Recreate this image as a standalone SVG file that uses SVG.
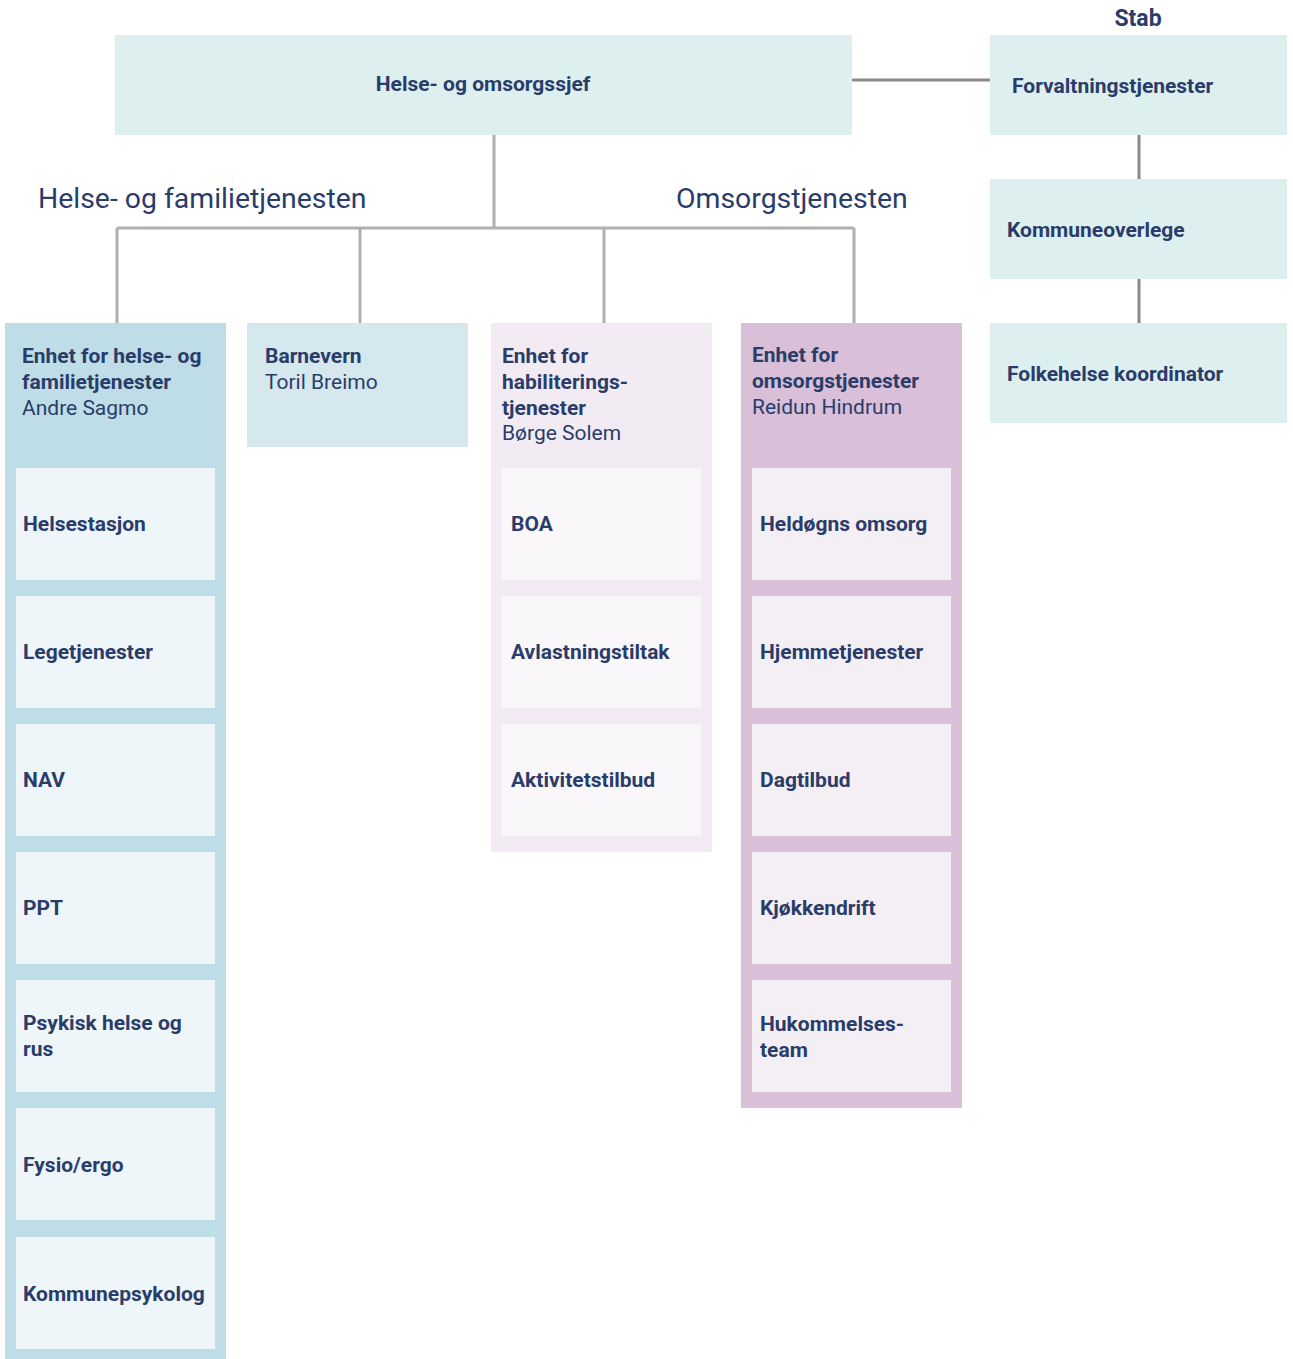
<svg xmlns="http://www.w3.org/2000/svg" width="1293" height="1359" viewBox="0 0 1293 1359">
<style>
text{font-family:Roboto,"Noto Sans","Liberation Sans",sans-serif;fill:#2a3c69;font-size:21px}
.b{font-weight:700}
.sec{font-size:28.4px;font-weight:400}
.stab{font-size:23px}
.top{fill:#ddefef}
.c1{fill:#bfdde7}
.c1i{fill:#eef6fa}
.c2{fill:#d5e8ee}
.c3{fill:#f3ebf3}
.c3i{fill:#faf7fa}
.c4{fill:#d9bfd7}
.c4i{fill:#f4eff4}
.ln{stroke:#b0b0b0;stroke-width:3;fill:none}
.lnd{stroke:#8a8a8a;stroke-width:3;fill:none}
</style>
<rect width="1293" height="1359" fill="#ffffff"/>
<g id="connectors">
<path class="lnd" d="M852 80H990"/>
<path class="lnd" d="M1139 135V179M1139 279V323"/>
<path class="ln" d="M494 135V228M117 228H854M117 228V323M360 228V323M604 228V323M854 228V323"/>
</g>
<g id="labels">
<text class="sec" x="38" y="208">Helse- og familietjenesten</text>
<text class="sec" x="676" y="208">Omsorgstjenesten</text>
<text class="b stab" x="1138" y="26" text-anchor="middle">Stab</text>
</g>
<g id="n-sjef">
<rect class="top" x="115" y="35" width="737" height="100"/>
<text class="b" x="483" y="91" text-anchor="middle">Helse- og omsorgssjef</text>
</g>
<g id="n-forvaltning">
<rect class="top" x="990" y="35" width="297" height="100"/>
<text class="b" x="1012" y="93">Forvaltningstjenester</text>
</g>
<g id="n-kommuneoverlege">
<rect class="top" x="990" y="179" width="297" height="100"/>
<text class="b" x="1007" y="237">Kommuneoverlege</text>
</g>
<g id="n-folkehelse">
<rect class="top" x="990" y="323" width="297" height="100"/>
<text class="b" x="1007" y="381">Folkehelse koordinator</text>
</g>
<g id="n-helsefamilie">
<rect class="c1" x="5" y="323" width="221" height="1036"/>
<text class="b" x="22" y="363">Enhet for helse- og</text>
<text class="b" x="22" y="389">familietjenester</text>
<text x="22" y="415">Andre Sagmo</text>
</g>
<g id="n-helsestasjon"><rect class="c1i" x="16" y="468" width="199" height="112"/><text class="b" x="23" y="531">Helsestasjon</text></g>
<g id="n-legetjenester"><rect class="c1i" x="16" y="596" width="199" height="112"/><text class="b" x="23" y="659">Legetjenester</text></g>
<g id="n-nav"><rect class="c1i" x="16" y="724" width="199" height="112"/><text class="b" x="23" y="787">NAV</text></g>
<g id="n-ppt"><rect class="c1i" x="16" y="852" width="199" height="112"/><text class="b" x="23" y="915">PPT</text></g>
<g id="n-psykisk"><rect class="c1i" x="16" y="980" width="199" height="112"/><text class="b" x="23" y="1030">Psykisk helse og</text><text class="b" x="23" y="1056">rus</text></g>
<g id="n-fysio"><rect class="c1i" x="16" y="1108" width="199" height="112"/><text class="b" x="23" y="1172">Fysio/ergo</text></g>
<g id="n-kommunepsykolog"><rect class="c1i" x="16" y="1237" width="199" height="112"/><text class="b" x="23" y="1301">Kommunepsykolog</text></g>
<g id="n-barnevern">
<rect class="c2" x="247" y="323" width="221" height="124"/>
<text class="b" x="265" y="363">Barnevern</text>
<text x="265" y="389">Toril Breimo</text>
</g>
<g id="n-habilitering">
<rect class="c3" x="491" y="323" width="221" height="529"/>
<text class="b" x="502" y="363">Enhet for</text>
<text class="b" x="502" y="389">habiliterings-</text>
<text class="b" x="502" y="415">tjenester</text>
<text x="502" y="440">Børge Solem</text>
</g>
<g id="n-boa"><rect class="c3i" x="502" y="468" width="199" height="112"/><text class="b" x="511" y="531">BOA</text></g>
<g id="n-avlastning"><rect class="c3i" x="502" y="596" width="199" height="112"/><text class="b" x="511" y="659">Avlastningstiltak</text></g>
<g id="n-aktivitet"><rect class="c3i" x="502" y="724" width="199" height="112"/><text class="b" x="511" y="787">Aktivitetstilbud</text></g>
<g id="n-omsorg">
<rect class="c4" x="741" y="323" width="221" height="785"/>
<text class="b" x="752" y="362">Enhet for</text>
<text class="b" x="752" y="388">omsorgstjenester</text>
<text x="752" y="414">Reidun Hindrum</text>
</g>
<g id="n-heldogns"><rect class="c4i" x="752" y="468" width="199" height="112"/><text class="b" x="760" y="531">Heldøgns omsorg</text></g>
<g id="n-hjemmetjenester"><rect class="c4i" x="752" y="596" width="199" height="112"/><text class="b" x="760" y="659">Hjemmetjenester</text></g>
<g id="n-dagtilbud"><rect class="c4i" x="752" y="724" width="199" height="112"/><text class="b" x="760" y="787">Dagtilbud</text></g>
<g id="n-kjokkendrift"><rect class="c4i" x="752" y="852" width="199" height="112"/><text class="b" x="760" y="915">Kjøkkendrift</text></g>
<g id="n-hukommelse"><rect class="c4i" x="752" y="980" width="199" height="112"/><text class="b" x="760" y="1031">Hukommelses-</text><text class="b" x="760" y="1057">team</text></g>
</svg>
